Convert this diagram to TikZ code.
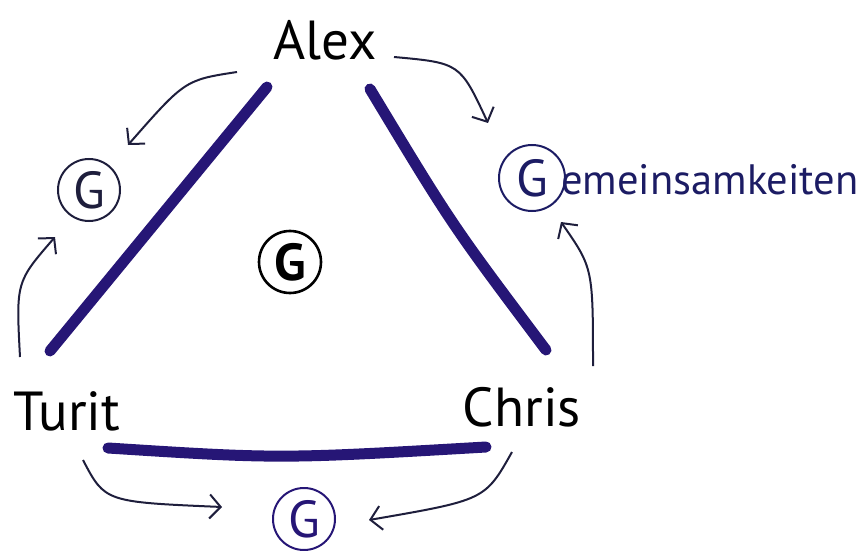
\documentclass[tikz,border=0pt]{standalone}
\usepackage{fontspec}
\setmainfont{PT Sans}
\usetikzlibrary{arrows.meta}
\definecolor{navy}{RGB}{38,22,118}
\definecolor{inkblue}{RGB}{28,28,100}
\definecolor{thinink}{RGB}{30,30,60}
\tikzset{
  namelbl/.style={font=\fontsize{55}{60}\selectfont, text=black, inner sep=0pt, anchor=base},
  gcirc/.style={circle, draw=#1, text=#1, line width=2pt, minimum size=62pt, inner sep=0pt,
    font=\fontsize{52}{56}\selectfont},
  thick side/.style={draw=navy, line width=11pt, line cap=round},
  thin arrow/.style={draw=thinink, line width=2pt,
    -{Straight Barb[length=11pt,width=24pt,line width=2pt]}}
}
\begin{document}
\begin{tikzpicture}[x=1pt,y=-1pt]
\useasboundingbox (0,0) rectangle (863,551);
% names
\node[namelbl] (alex) at (325,60) {Alex};
\node[namelbl] (turit) at (67,430) {Turit};
\node[namelbl] (chris) at (522,426) {Chris};
% G circles
\node[gcirc=thinink] (gl) at (89,190) {G};
\node[gcirc=black, line width=2.6pt, font=\fontsize{52}{56}\selectfont\bfseries] (gc) at (290,262) {G};
\node[gcirc=inkblue, minimum size=66pt] (gr) at (532,178) {G};
\node[gcirc=navy] (gb) at (304,519) {G};
\node[anchor=base west, inner sep=0pt, text=inkblue, font=\fontsize{42.5}{48}\selectfont] (gem) at (561,194) {emeinsamkeiten};
% thick sides
\coordinate (lt) at (267,87);
\coordinate (lb) at (50,351);
\coordinate (rt) at (370,89);
\coordinate (rb) at (546,350);
\coordinate (bl) at (108,448);
\coordinate (br) at (486,447);
\draw[thick side] (lt) -- (lb);
\draw[thick side] (rt) .. controls (452,225) .. (rb);
\draw[thick side] (bl) .. controls (280,459) .. (br);
% thin arrows
\coordinate (a1s) at (237,72);  \coordinate (a1e) at (128,145);
\coordinate (a2s) at (20,357);  \coordinate (a2e) at (55,237);
\coordinate (a3s) at (394,57);  \coordinate (a3e) at (488,123);
\coordinate (a4s) at (593,366); \coordinate (a4e) at (561,222);
\coordinate (a5s) at (83,460);  \coordinate (a5e) at (222,507);
\coordinate (a6s) at (512,452); \coordinate (a6e) at (369,520);
\draw[thin arrow] (a1s) .. controls (185,80) .. (a1e);
\draw[thin arrow] (a2s) .. controls (16,282) .. (a2e);
\draw[thin arrow] (a3s) .. controls (460,63) .. (a3e);
\draw[thin arrow] (a4s) .. controls (593,268) .. (a4e);
\draw[thin arrow] (a5s) .. controls (105,502) .. (a5e);
\draw[thin arrow] (a6s) .. controls (485,500) .. (a6e);
\end{tikzpicture}
\end{document}
